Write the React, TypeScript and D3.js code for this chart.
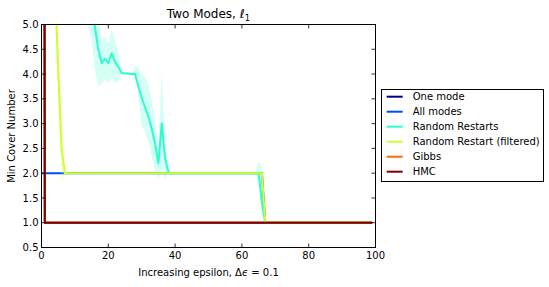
import React from "react";
import * as d3 from "d3";

// ---- data ----
const xTicks = [0, 20, 40, 60, 80, 100];
const yTicks = [0.5, 1.0, 1.5, 2.0, 2.5, 3.0, 3.5, 4.0, 4.5, 5.0];

const seriesNames = [
  "One mode",
  "All modes",
  "Random Restarts",
  "Random Restart (filtered)",
  "Gibbs",
  "HMC",
];
const seriesColors = ["#00007f", "#004cff", "#29ffce", "#ceff29", "#ff6800", "#7f0000"];

const oneModeX = [0, 1, 99];
const oneModeY = [50, 1, 1];

const allModesX = [0, 66, 67, 99];
const allModesY = [2, 2, 1, 1];

const rrX = [0, 15, 16, 17, 18, 19, 20, 21, 22, 23, 24, 27, 28, 29, 30, 31, 32, 33, 34, 35, 36, 37, 38, 39, 64, 65, 66, 67, 99];
const rrMean = [9, 5.6, 4.95, 4.5, 4.22, 4.31, 4.22, 4.42, 4.25, 4.15, 4.02, 4.0, 4.0, 3.75, 3.52, 3.33, 3.15, 2.9, 2.6, 2.2, 3.0, 2.3, 2.02, 2.0, 2.0, 2.0, 1.4, 1.0, 1.0];
const rrLow = [8, 4.7, 4.08, 3.75, 3.82, 3.88, 3.82, 3.93, 3.82, 3.85, 4.0, 4.0, 4.0, 3.6, 2.95, 2.83, 2.63, 2.33, 2.06, 1.89, 2.06, 1.89, 2.0, 2.0, 2.0, 1.8, 1.2, 1.0, 1.0];
const rrHigh = [10, 6.5, 5.8, 5.3, 4.65, 4.78, 4.62, 4.9, 4.68, 4.45, 4.02, 4.0, 4.15, 4.15, 4.01, 3.94, 3.78, 3.47, 3.07, 2.5, 4.0, 2.6, 2.1, 2.0, 2.0, 2.22, 2.15, 1.0, 1.0];

const rrfX = [0, 4, 5, 6, 7, 66, 67, 99];
const rrfMean = [9, 5.8, 4.1, 2.5, 2.0, 2.0, 1.0, 1.0];
const rrfLow = [9, 5.3, 3.6, 1.8, 2.0, 2.0, 1.0, 1.0];
const rrfHigh = [9, 6.3, 4.6, 3.2, 2.0, 2.0, 1.0, 1.0];

const gibbsX = [0, 1, 99];
const gibbsY = [50, 1, 1];

const hmcX = [0, 1, 99];
const hmcY = [50, 1, 1];

// ---- layout ----
const W = 549;
const H = 287;
const L = 41.5;
const R = 375.5;
const T = 24.5;
const B = 247.5;
const FONT = "'DejaVu Sans', sans-serif";

type Pt = { x: number; y: number; lo?: number; hi?: number };

function zipLine(xs: number[], ys: number[], lo?: number[], hi?: number[]): Pt[] {
  return xs.map((x, i) => ({ x, y: ys[i], lo: lo ? lo[i] : undefined, hi: hi ? hi[i] : undefined }));
}

export default function App() {
  const x = d3.scaleLinear().domain([0, 100]).range([L, R]);
  const y = d3.scaleLinear().domain([0.5, 5.0]).range([B, T]);

  const line = d3
    .line<Pt>()
    .x((d) => x(d.x))
    .y((d) => y(d.y));
  const area = d3
    .area<Pt>()
    .x((d) => x(d.x))
    .y0((d) => y(d.lo as number))
    .y1((d) => y(d.hi as number));

  const series: { pts: Pt[]; band: boolean }[] = [
    { pts: zipLine(oneModeX, oneModeY), band: false },
    { pts: zipLine(allModesX, allModesY), band: false },
    { pts: zipLine(rrX, rrMean, rrLow, rrHigh), band: true },
    { pts: zipLine(rrfX, rrfMean, rrfLow, rrfHigh), band: true },
    { pts: zipLine(gibbsX, gibbsY), band: false },
    { pts: zipLine(hmcX, hmcY), band: false },
  ];

  const tickLen = 4;
  const legX = 381.5;
  const legY = 89.5;
  const legRow0 = 96.7;
  const legStep = 15;

  return (
    <svg
      width={W}
      height={H}
      style={{ position: "absolute", left: 0, top: 0, background: "#fff" }}
      fontFamily={FONT}
    >
      <rect x={0} y={0} width={W} height={H} fill="#fff" />
      <defs>
        <clipPath id="plotclip">
          <rect x={L} y={T} width={R - L} height={B - T} />
        </clipPath>
      </defs>

      <g clipPath="url(#plotclip)">
        {series.map((s, i) => (
          <g key={i}>
            {s.band && <path d={area(s.pts) || ""} fill={seriesColors[i]} fillOpacity={0.2} stroke="none" />}
            <path
              d={line(s.pts) || ""}
              fill="none"
              stroke={seriesColors[i]}
              strokeWidth={2}
              strokeLinejoin="round"
            />
          </g>
        ))}
      </g>

      {/* frame */}
      <rect x={L} y={T} width={R - L} height={B - T} fill="none" stroke="#000" strokeWidth={1} />

      {/* x ticks */}
      {xTicks.map((t) => (
        <g key={"x" + t}>
          <line x1={x(t)} x2={x(t)} y1={B} y2={B - tickLen} stroke="#000" strokeWidth={0.8} />
          <line x1={x(t)} x2={x(t)} y1={T} y2={T + tickLen} stroke="#000" strokeWidth={0.8} />
          <text x={x(t)} y={259} fontSize={10} textAnchor="middle" fill="#000">
            {t}
          </text>
        </g>
      ))}

      {/* y ticks */}
      {yTicks.map((t) => (
        <g key={"y" + t}>
          <line x1={L} x2={L + tickLen} y1={y(t)} y2={y(t)} stroke="#000" strokeWidth={0.8} />
          <line x1={R} x2={R - tickLen} y1={y(t)} y2={y(t)} stroke="#000" strokeWidth={0.8} />
          <text x={38.5} y={y(t) + 3.6} fontSize={10} textAnchor="end" fill="#000">
            {t.toFixed(1)}
          </text>
        </g>
      ))}

      {/* title */}
      <text x={(L + R) / 2} y={18.3} fontSize={12} textAnchor="middle" fill="#000">
        Two Modes,{" "}
        <tspan fontStyle="italic">ℓ</tspan>
        <tspan fontSize={8.5} dy={2.5}>1</tspan>
      </text>

      {/* x label */}
      <text x={(L + R) / 2} y={275.7} fontSize={10} textAnchor="middle" fill="#000">
        Increasing epsilon, Δ<tspan fontStyle="italic">ϵ</tspan> = 0.1
      </text>

      {/* y label */}
      <text
        transform={`translate(15,${(T + B) / 2}) rotate(-90)`}
        fontSize={10}
        textAnchor="middle"
        fill="#000"
      >
        Min Cover Number
      </text>

      {/* legend */}
      <rect x={legX} y={legY} width={162} height={92} fill="#fff" stroke="#000" strokeWidth={1} />
      {seriesNames.map((n, i) => (
        <g key={n}>
          <line
            x1={386.7}
            x2={402.7}
            y1={legRow0 + i * legStep}
            y2={legRow0 + i * legStep}
            stroke={seriesColors[i]}
            strokeWidth={2}
          />
          <text x={412.7} y={legRow0 + i * legStep + 3.6} fontSize={10} fill="#000">
            {n}
          </text>
        </g>
      ))}
    </svg>
  );
}
